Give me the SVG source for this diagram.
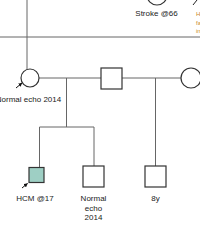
<svg xmlns="http://www.w3.org/2000/svg" width="200" height="230" viewBox="0 0 200 230">
<defs>
<marker id="arr" viewBox="0 0 10 10" refX="9" refY="5" markerWidth="4" markerHeight="4" orient="auto">
<path d="M0,0 L10,5 L0,10 z" fill="#111"/>
</marker>
</defs>
<style>
.ln{stroke:#666;stroke-width:1;fill:none}
.sym{stroke:#333;stroke-width:1.2;fill:#fff}
.lbl{font-family:"Liberation Sans",Arial,sans-serif;font-size:8px;fill:#222;text-anchor:middle}
.note{font-family:"Liberation Sans",Arial,sans-serif;font-size:6px;fill:#c8872a}
.pa{stroke:#111;stroke-width:1;marker-end:url(#arr)}
</style>
<rect width="200" height="230" fill="#fff"/>
<g id="connectors">
<line class="ln" x1="0" y1="37" x2="200" y2="37"/>
<line class="ln" x1="27" y1="0" x2="27" y2="69.5"/>
<line class="ln" x1="39" y1="78" x2="101" y2="78"/>
<line class="ln" x1="122" y1="78" x2="181" y2="78"/>
<line class="ln" x1="66.5" y1="78" x2="66.5" y2="127"/>
<line class="ln" x1="39.5" y1="127" x2="94" y2="127"/>
<line class="ln" x1="39.5" y1="127" x2="39.5" y2="167"/>
<line class="ln" x1="94" y1="127" x2="94" y2="166"/>
<line class="ln" x1="155.5" y1="78" x2="155.5" y2="166"/>
<line x1="193" y1="5" x2="197" y2="0" stroke="#222" stroke-width="1"/>
</g>
<g id="top-female">
<circle class="sym" cx="157" cy="-5" r="10"/>
<text class="lbl" x="156.5" y="16">Stroke @66</text>
</g>
<g id="top-right-note">
<text class="note" x="196" y="16">H</text>
<text class="note" x="196" y="24.5">fa</text>
<text class="note" x="196" y="33">in</text>
</g>
<g id="mother">
<circle class="sym" cx="30" cy="78" r="9"/>
<line class="pa" x1="16" y1="88" x2="22" y2="83"/>
<text class="lbl" x="28.5" y="102">Normal echo 2014</text>
</g>
<g id="father">
<rect class="sym" x="101" y="68" width="21" height="21"/>
</g>
<g id="second-wife">
<circle class="sym" cx="191" cy="78" r="10"/>
</g>
<g id="proband">
<rect class="sym" x="29" y="167.5" width="15" height="15" style="fill:#9ecfc4"/>
<line class="pa" x1="22" y1="188" x2="27.5" y2="183.5"/>
<text class="lbl" x="35" y="201">HCM @17</text>
</g>
<g id="brother">
<rect class="sym" x="83" y="166" width="21" height="21"/>
<text class="lbl" x="93.5" y="201">Normal</text>
<text class="lbl" x="93.5" y="210.5">echo</text>
<text class="lbl" x="93.5" y="220">2014</text>
</g>
<g id="half-brother">
<rect class="sym" x="145" y="166" width="21" height="21"/>
<text class="lbl" x="155.5" y="201">8y</text>
</g>
</svg>
